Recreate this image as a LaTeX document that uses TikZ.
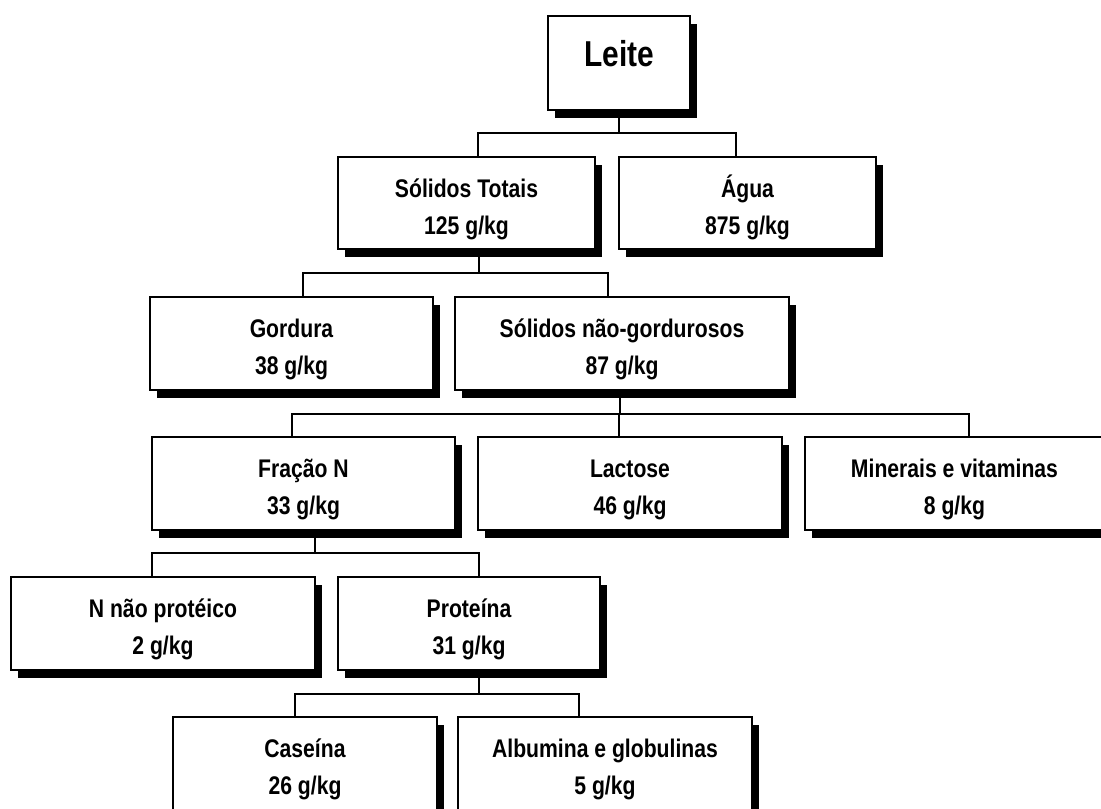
\documentclass[tikz,border=0pt]{standalone}
\usepackage{fontspec}
\setmainfont{Liberation Sans}[FakeStretch=0.83]
\usetikzlibrary{shadows}
% two-line box label with fixed first-line height and last-line depth
\newcommand{\boxtext}[2]{\rule{0pt}{33bp}#1\\#2\rule[-8bp]{0pt}{8bp}}
\begin{document}
\begin{tikzpicture}[x=1bp,y=-1bp,
  box/.style={draw=black, line width=1.3bp, fill=white, rectangle, inner sep=0pt,
    minimum height=93bp, align=center,
    font=\bfseries\fontsize{25.5bp}{37bp}\selectfont,
    drop shadow={shadow xshift=7bp, shadow yshift=-8bp, fill=black, opacity=1}},
  link/.style={draw=black, line width=1.2bp}]
\useasboundingbox (0,0) rectangle (1101,809);
\clip (0,0) rectangle (1101,809);

% level 0
\node[box, minimum width=142bp, minimum height=94bp,
      font=\bfseries\fontsize{36bp}{40bp}\selectfont] (leite) at (619,63)
      {\rule[-20bp]{0pt}{48bp}Leite};
% level 1
\node[box, minimum width=257bp, minimum height=92bp] (st) at (466.5,203) {\boxtext{Sólidos Totais}{125 g/kg}};
\node[box, minimum width=257bp, minimum height=92bp] (agua) at (747.5,203) {\boxtext{Água}{875 g/kg}};
% level 2
\node[box, minimum width=283bp] (gord) at (291.5,343.5) {\boxtext{Gordura}{38 g/kg}};
\node[box, minimum width=334bp] (sng) at (622,343.5) {\boxtext{Sólidos não-gordurosos}{87 g/kg}};
% level 3
\node[box, minimum width=303bp] (fn) at (303.5,483.5) {\boxtext{Fração N}{33 g/kg}};
\node[box, minimum width=304bp] (lac) at (630,483.5) {\boxtext{Lactose}{46 g/kg}};
\node[box, minimum width=299bp] (min) at (954.5,483.5) {\boxtext{Minerais e vitaminas}{8 g/kg}};
% level 4
\node[box, minimum width=304bp] (nnp) at (163,623.5) {\boxtext{N não protéico}{2 g/kg}};
\node[box, minimum width=262bp] (prot) at (469,623.5) {\boxtext{Proteína}{31 g/kg}};
% level 5
\node[box, minimum width=264bp] (cas) at (305,763.5) {\boxtext{Caseína}{26 g/kg}};
\node[box, minimum width=294bp] (alb) at (605,763.5) {\boxtext{Albumina e globulinas}{5 g/kg}};

% connectors (bus lines)
\coordinate (bus1) at (0,133);
\coordinate (bus2) at (0,273);
\coordinate (bus3) at (0,414);
\coordinate (bus4) at (0,553);
\coordinate (bus5) at (0,694);

\draw[link] (leite.south) -- (leite.south |- bus1);
\draw[link] ([xshift=11.5bp]st.north) |- ([xshift=-11.5bp]agua.north |- bus1) -- ([xshift=-11.5bp]agua.north);

\draw[link] ([xshift=12.5bp]st.south) -- ([xshift=12.5bp]st.south |- bus2);
\draw[link] ([xshift=11.5bp]gord.north) |- ([xshift=-14bp]sng.north |- bus2) -- ([xshift=-14bp]sng.north);

\draw[link] ([xshift=-2bp]sng.south) -- ([xshift=-2bp]sng.south |- bus3);
\draw[link] ([xshift=-11.5bp]fn.north) |- ([xshift=14.5bp]min.north |- bus3) -- ([xshift=14.5bp]min.north);
\draw[link] ([xshift=-11bp]lac.north) -- ([xshift=-11bp]lac.north |- bus3);

\draw[link] ([xshift=11.5bp]fn.south) -- ([xshift=11.5bp]fn.south |- bus4);
\draw[link] ([xshift=-11bp]nnp.north) |- ([xshift=10bp]prot.north |- bus4) -- ([xshift=10bp]prot.north);

\draw[link] ([xshift=10bp]prot.south) -- ([xshift=10bp]prot.south |- bus5);
\draw[link] ([xshift=-10bp]cas.north) |- ([xshift=-26bp]alb.north |- bus5) -- ([xshift=-26bp]alb.north);
\end{tikzpicture}
\end{document}
